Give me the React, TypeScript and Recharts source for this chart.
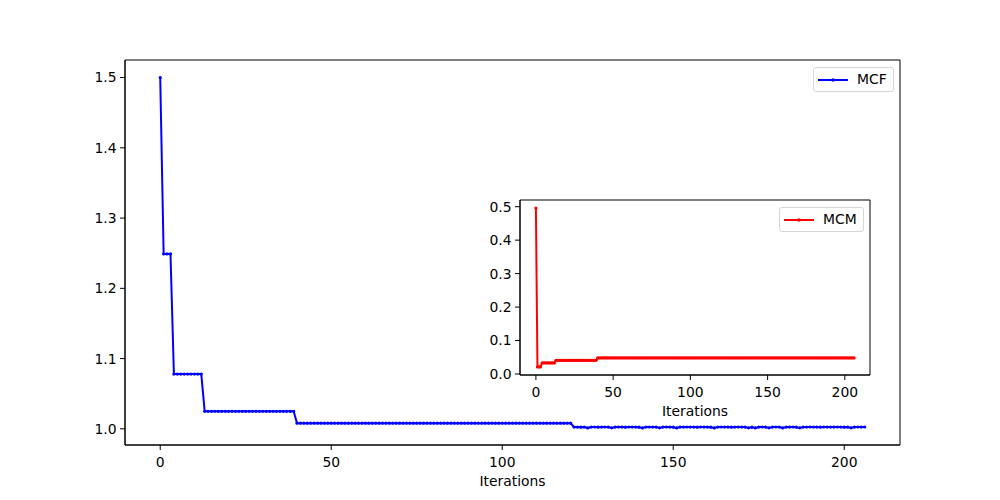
import React from "react";
import { LineChart, Line, XAxis, YAxis, Legend, CartesianGrid, ReferenceArea } from "recharts";

/* ---------- Data ---------- */

// MCF per iteration (0..206)
const mcf: number[] = [
  1.5,
  1.249, 1.249, 1.249,
  1.078, 1.078, 1.078, 1.078, 1.078, 1.078, 1.078, 1.078, 1.078,
  1.025, 1.025, 1.025, 1.025, 1.025, 1.025, 1.025, 1.025, 1.025, 1.025,
  1.025, 1.025, 1.025, 1.025, 1.025, 1.025, 1.025, 1.025, 1.025, 1.025,
  1.025, 1.025, 1.025, 1.025, 1.025, 1.025, 1.025,
  1.008, 1.008, 1.008, 1.008, 1.008, 1.008, 1.008, 1.008, 1.008, 1.008,
  1.008, 1.008, 1.008, 1.008, 1.008, 1.008, 1.008, 1.008, 1.008, 1.008,
  1.008, 1.008, 1.008, 1.008, 1.008, 1.008, 1.008, 1.008, 1.008, 1.008,
  1.008, 1.008, 1.008, 1.008, 1.008, 1.008, 1.008, 1.008, 1.008, 1.008,
  1.008, 1.008, 1.008, 1.008, 1.008, 1.008, 1.008, 1.008, 1.008, 1.008,
  1.008, 1.008, 1.008, 1.008, 1.008, 1.008, 1.008, 1.008, 1.008, 1.008,
  1.008, 1.008, 1.008, 1.008, 1.008, 1.008, 1.008, 1.008, 1.008, 1.008,
  1.008, 1.008, 1.008, 1.008, 1.008, 1.008, 1.008, 1.008, 1.008, 1.008,
  1.008,
  1.0025, 1.0025, 1.0024, 1.0026, 1.0013, 1.0025, 1.0026, 1.0024, 1.0025, 1.0026,
  1.0025, 1.0014, 1.0025, 1.0026, 1.0025, 1.0024, 1.0026, 1.0025, 1.0025, 1.0024,
  1.0013, 1.0025, 1.0026, 1.0025, 1.0025, 1.0014, 1.0025, 1.0026, 1.0025, 1.0024,
  1.0013, 1.0025, 1.0025, 1.0026, 1.0025, 1.0025, 1.0024, 1.0026, 1.0025, 1.0025,
  1.0024, 1.0013, 1.0025, 1.0026, 1.0025, 1.0025, 1.0024, 1.0025, 1.0026, 1.0025,
  1.0025, 1.0014, 1.0024, 1.0013, 1.0025, 1.0026, 1.0025, 1.0014, 1.0025, 1.0026,
  1.0025, 1.0013, 1.0025, 1.0025, 1.0026, 1.0024, 1.0014, 1.0025, 1.0025, 1.0026,
  1.0025, 1.0025, 1.0024, 1.0026, 1.0025, 1.0025, 1.0025, 1.0026, 1.0025, 1.0024,
  1.0025, 1.0014, 1.0025, 1.0026, 1.0025, 1.0026,
];

// MCM per iteration (0..206)
const mcm: number[] = [
  0.496,
  0.021, 0.021, 0.021,
  0.033, 0.033, 0.033, 0.033, 0.033, 0.033, 0.033, 0.033, 0.033,
  0.041, 0.041, 0.041, 0.041, 0.041, 0.041, 0.041, 0.041, 0.041, 0.041,
  0.041, 0.041, 0.041, 0.041, 0.041, 0.041, 0.041, 0.041, 0.041, 0.041,
  0.041, 0.041, 0.041, 0.041, 0.041, 0.041, 0.041,
  0.048, 0.048, 0.048, 0.048, 0.048, 0.048, 0.048, 0.048, 0.048, 0.048,
  0.048, 0.048, 0.048, 0.048, 0.048, 0.048, 0.048, 0.048, 0.048, 0.048,
  0.048, 0.048, 0.048, 0.048, 0.048, 0.048, 0.048, 0.048, 0.048, 0.048,
  0.048, 0.048, 0.048, 0.048, 0.048, 0.048, 0.048, 0.048, 0.048, 0.048,
  0.048, 0.048, 0.048, 0.048, 0.048, 0.048, 0.048, 0.048, 0.048, 0.048,
  0.048, 0.048, 0.048, 0.048, 0.048, 0.048, 0.048, 0.048, 0.048, 0.048,
  0.048, 0.048, 0.048, 0.048, 0.048, 0.048, 0.048, 0.048, 0.048, 0.048,
  0.048, 0.048, 0.048, 0.048, 0.048, 0.048, 0.048, 0.048, 0.048, 0.048,
  0.048, 0.048, 0.048, 0.048, 0.048, 0.048, 0.048, 0.048, 0.048, 0.048,
  0.048, 0.048, 0.048, 0.048, 0.048, 0.048, 0.048, 0.048, 0.048, 0.048,
  0.048, 0.048, 0.048, 0.048, 0.048, 0.048, 0.048, 0.048, 0.048, 0.048,
  0.048, 0.048, 0.048, 0.048, 0.048, 0.048, 0.048, 0.048, 0.048, 0.048,
  0.048, 0.048, 0.048, 0.048, 0.048, 0.048, 0.048, 0.048, 0.048, 0.048,
  0.048, 0.048, 0.048, 0.048, 0.048, 0.048, 0.048, 0.048, 0.048, 0.048,
  0.048, 0.048, 0.048, 0.048, 0.048, 0.048, 0.048, 0.048, 0.048, 0.048,
  0.048, 0.048, 0.048, 0.048, 0.048, 0.048, 0.048, 0.048, 0.048, 0.048,
  0.048, 0.048, 0.048, 0.048, 0.048, 0.048, 0.048,
];

const xTicks = [0, 50, 100, 150, 200];
const mcfTicks = [1.0, 1.1, 1.2, 1.3, 1.4, 1.5];
const mcmTicks = [0.0, 0.1, 0.2, 0.3, 0.4, 0.5];

const mcfData = mcf.map((v, i) => ({ it: i, mcf: v }));
const mcmData = mcm.map((v, i) => ({ it: i, mcm: v }));

/* ---------- Styles ---------- */

const FONT = "DejaVu Sans, sans-serif";
const tickStyle = { fontSize: 13.9, fill: "#000", fontFamily: FONT };
const xDomain: [number, number] = [-10.3, 216.3];
const mcfDomain: [number, number] = [0.977, 1.525];
const mcmDomain: [number, number] = [-0.003, 0.52];

function LegendBox({ label, color }: { label: string; color: string }) {
  return (
    <div
      style={{
        display: "flex",
        alignItems: "center",
        border: "1px solid #d6d6d6",
        borderRadius: 3,
        background: "#fff",
        padding: "3px 6px 3px 4px",
        fontFamily: FONT,
        fontSize: 13.9,
        lineHeight: "17px",
        whiteSpace: "nowrap",
      }}
    >
      <svg width={30} height={10} style={{ marginRight: 9 }}>
        <line x1={0} y1={5} x2={30} y2={5} stroke={color} strokeWidth={2} />
        <circle cx={15} cy={5} r={1.8} fill={color} />
      </svg>
      <span>{label}</span>
    </div>
  );
}

/* ---------- Component ---------- */

export default function App() {
  return (
    <div style={{ position: "absolute", left: 0, top: 0, width: 1000, height: 500, background: "#fff" }}>
      <LineChart
        width={1000}
        height={500}
        data={mcfData}
        margin={{ top: 60, right: 100, left: 65, bottom: 0 }}
      >
        <XAxis
          dataKey="it"
          type="number"
          domain={xDomain}
          ticks={xTicks}
          allowDataOverflow
          height={55}
          tickSize={5}
          tickMargin={7}
          tick={tickStyle}
          stroke="#000"
          label={{ value: "Iterations", position: "insideBottom", offset: 14.5, style: tickStyle }}
        />
        <YAxis
          type="number"
          domain={mcfDomain}
          ticks={mcfTicks}
          allowDataOverflow
          width={60}
          tickSize={5}
          tickMargin={3.5}
          tick={tickStyle}
          tickFormatter={(v: number) => v.toFixed(1)}
          stroke="#000"
        />
        {/* axes frame */}
        <ReferenceArea
          x1={xDomain[0]}
          x2={xDomain[1]}
          y1={mcfDomain[0]}
          y2={mcfDomain[1]}
          fill="none"
          fillOpacity={0}
          stroke="#000"
          strokeWidth={1}
          strokeOpacity={1}
          ifOverflow="visible"
        />
        <Legend
          layout="horizontal"
          align="center"
          verticalAlign="middle"
          wrapperStyle={{ left: 813, top: 67, width: "auto" }}
          content={() => <LegendBox label="MCF" color="#0000ff" />}
        />
        <Line
          dataKey="mcf"
          type="linear"
          stroke="#0000ff"
          strokeWidth={2}
          dot={{ r: 1.6, fill: "#0000ff", stroke: "#0000ff", strokeWidth: 0 }}
          activeDot={false}
          isAnimationActive={false}
        />
      </LineChart>

      <div style={{ position: "absolute", left: 470, top: 190 }}>
        <LineChart
          width={410}
          height={240}
          data={mcmData}
          margin={{ top: 10, right: 10, left: 10, bottom: 0 }}
        >
          <CartesianGrid fill="#fff" horizontal={false} vertical={false} />
          <XAxis
            dataKey="it"
            type="number"
            domain={xDomain}
            ticks={xTicks}
            allowDataOverflow
            height={55}
            tickSize={5}
            tickMargin={7}
            tick={tickStyle}
            stroke="#000"
            label={{ value: "Iterations", position: "insideBottom", offset: 14.5, style: tickStyle }}
          />
          <YAxis
            type="number"
            domain={mcmDomain}
            ticks={mcmTicks}
            allowDataOverflow
            width={40}
            tickSize={5}
            tickMargin={3.5}
            tick={tickStyle}
            tickFormatter={(v: number) => v.toFixed(1)}
            stroke="#000"
          />
          <ReferenceArea
            x1={xDomain[0]}
            x2={xDomain[1]}
            y1={mcmDomain[0]}
            y2={mcmDomain[1]}
            fill="none"
            fillOpacity={0}
            stroke="#000"
            strokeWidth={1}
            strokeOpacity={1}
            ifOverflow="visible"
          />
          <Legend
            layout="horizontal"
            align="center"
            verticalAlign="middle"
            wrapperStyle={{ left: 309, top: 17, width: "auto" }}
            content={() => <LegendBox label="MCM" color="#ff0000" />}
          />
          <Line
            dataKey="mcm"
            type="linear"
            stroke="#ff0000"
            strokeWidth={2}
            dot={{ r: 1.6, fill: "#ff0000", stroke: "#ff0000", strokeWidth: 0 }}
            activeDot={false}
            isAnimationActive={false}
          />
        </LineChart>
      </div>
    </div>
  );
}
